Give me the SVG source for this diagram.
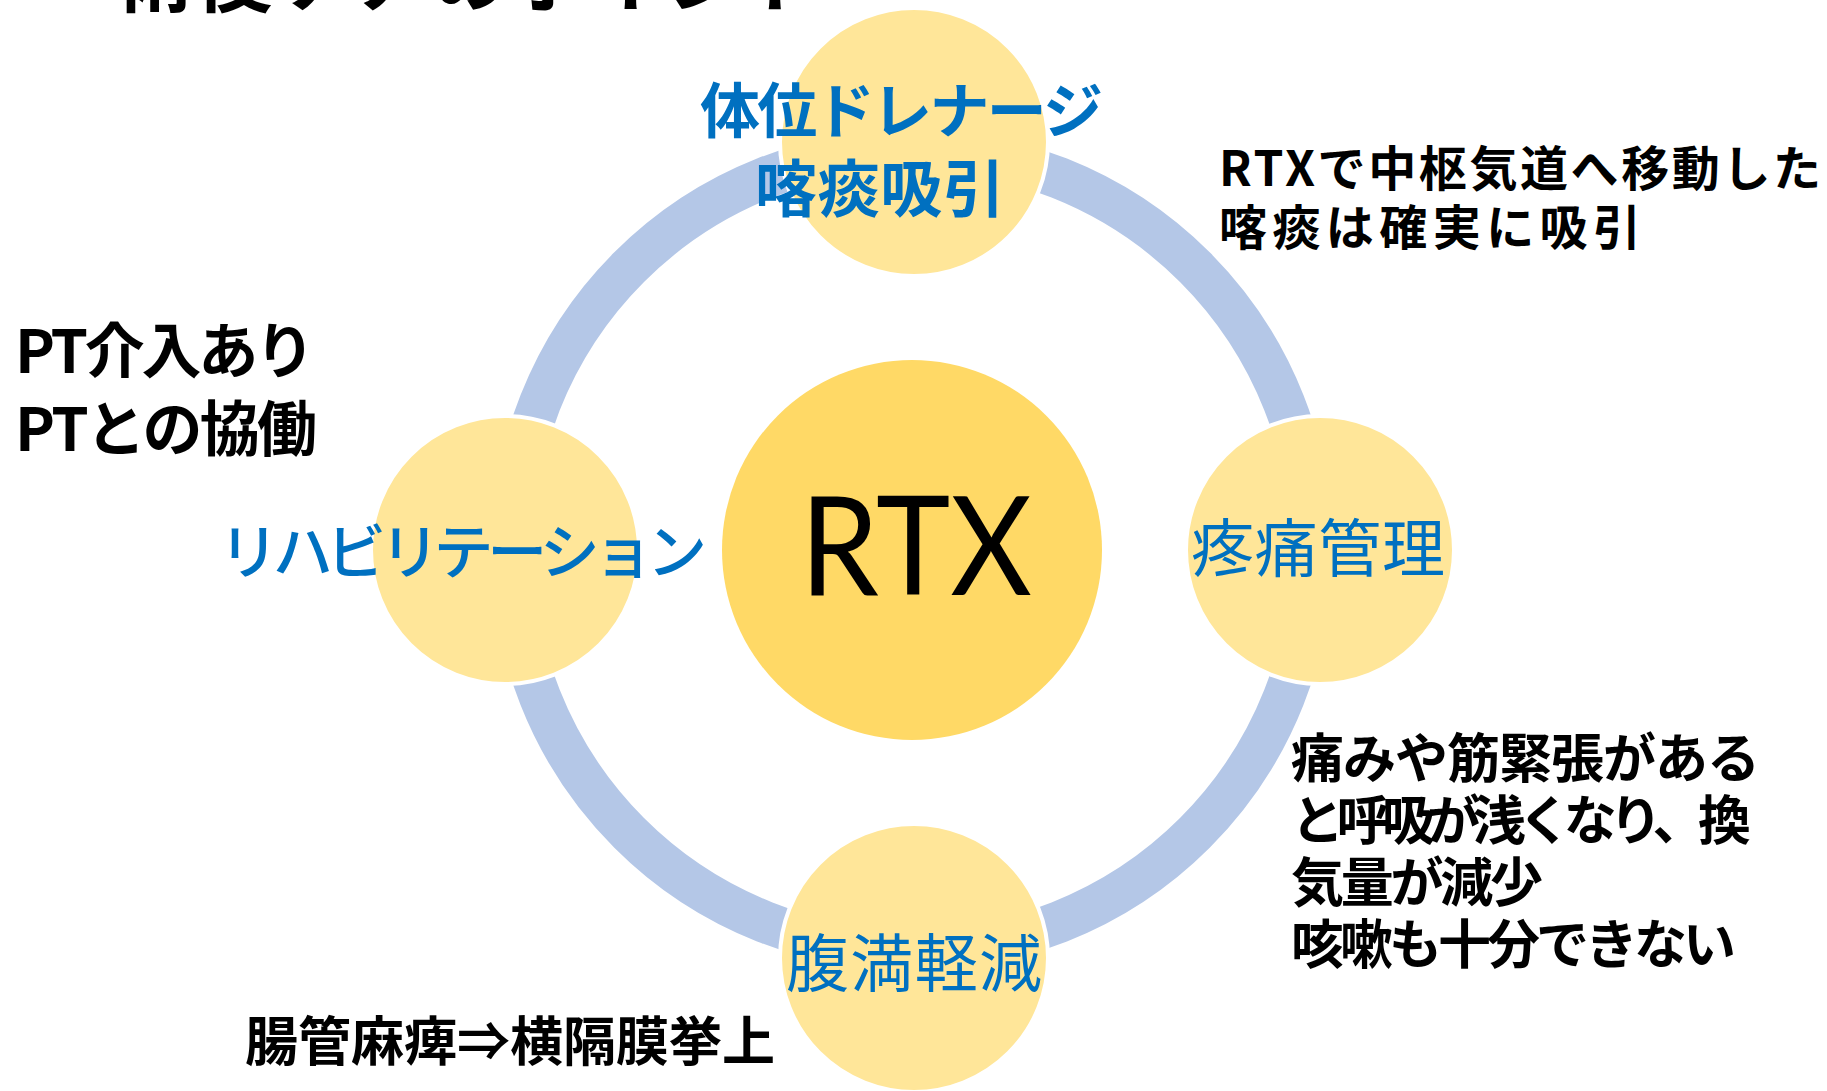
<svg xmlns="http://www.w3.org/2000/svg" width="1827" height="1091" viewBox="0 0 1827 1091">
<style>
.ring{fill:none;stroke:#B4C7E7;stroke-width:42}
.sat{fill:#FFE699;stroke:#FFFFFF;stroke-width:4}
.hub{fill:#FFD966}
.jp{font-family:"Noto Sans CJK JP","Noto Sans",sans-serif}
.blue{fill:#0070C0}
.bold{font-weight:700}
.note{fill:#000000;font-weight:700}
</style>
<rect width="1827" height="1091" fill="#FFFFFF"/>
<text id="title" class="jp note" x="116" y="6" font-size="78" textLength="707">術後ケアのポイント</text>
<g id="connectors">
  <circle class="ring" cx="912" cy="550" r="400"/>
</g>
<g id="node-center">
  <circle class="hub" cx="912" cy="550" r="190"/>
  <text x="916" y="595" font-family="Lato,'Open Sans',sans-serif" font-size="138" text-anchor="middle" textLength="232" lengthAdjust="spacingAndGlyphs" fill="#000">RTX</text>
</g>
<g id="node-top">
  <circle class="sat" cx="914" cy="142" r="134"/>
  <text class="jp blue bold"><tspan x="700" y="133" font-size="60" textLength="403">体位ドレナージ</tspan><tspan x="755" y="212" font-size="62" textLength="250">喀痰吸引</tspan></text>
</g>
<g id="node-right">
  <circle class="sat" cx="1320" cy="550" r="134"/>
  <text class="jp blue" x="1191" y="571" font-size="63" textLength="254">疼痛管理</text>
</g>
<g id="node-bottom">
  <circle class="sat" cx="914" cy="958" r="134"/>
  <text class="jp blue" x="786" y="986" font-size="63" textLength="256">腹満軽減</text>
</g>
<g id="node-left">
  <circle class="sat" cx="505" cy="550" r="134"/>
  <text class="jp blue" x="219" y="574" font-size="60" font-weight="500" textLength="488">リハビリテーション</text>
</g>
<g id="note-top-right">
  <text class="jp note" font-size="48"><tspan x="1219" y="186" textLength="602">RTXで中枢気道へ移動した</tspan><tspan x="1219" y="245" textLength="422">喀痰は確実に吸引</tspan></text>
</g>
<g id="note-left">
  <text class="jp note" font-size="60"><tspan x="15" y="373" textLength="300">PT介入あり</tspan><tspan x="15" y="451" textLength="302">PTとの協働</tspan></text>
</g>
<g id="note-right">
  <text class="jp note" font-size="53"><tspan x="1291" y="778" textLength="469">痛みや筋緊張がある</tspan><tspan x="1291" y="840" textLength="460">と呼吸が浅くなり、換</tspan><tspan x="1291" y="902" textLength="252">気量が減少</tspan><tspan x="1291" y="964" textLength="445">咳嗽も十分できない</tspan></text>
</g>
<g id="note-bottom">
  <text class="jp note" font-size="53" x="245" y="1061" textLength="530">腸管麻痺⇒横隔膜挙上</text>
</g>
</svg>
